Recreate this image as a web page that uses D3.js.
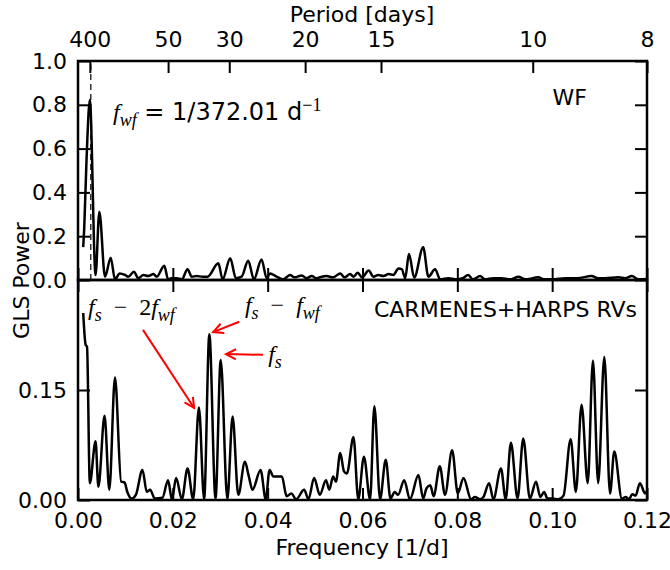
<!DOCTYPE html>
<html>
<head>
<meta charset="utf-8">
<script src="https://cdn.jsdelivr.net/npm/d3@7"></script>
<style>
  body { margin: 0; background: #fff; }
  svg { display: block; font-family: "DejaVu Sans", sans-serif; }
  .axis text { font-size: 22px; fill: #000; font-family: "DejaVu Sans", sans-serif; }
  .axis line { stroke: #000; stroke-width: 2px; }
  .frame { fill: none; stroke: #000; stroke-width: 2.5px; }
  .curve { fill: none; stroke: #000; stroke-width: 2.5px; stroke-linejoin: round; }
  .math { font-family: "Liberation Serif", "DejaVu Serif", serif; font-style: italic; }
  .roman { font-family: "Liberation Serif", "DejaVu Serif", serif; }
  .arrow { stroke: #f00; stroke-width: 2px; fill: none; }
</style>
</head>
<body>
<script>
// window function periodogram, [frequency, power]
var wfPeriodogram = [
  [0.0011,0.15],[0.0013,0.23],[0.0018,0.55],[0.0025,0.822],[0.0037,0.023],[0.0045,0.312],
  [0.0057,0.015],[0.0069,0.102],[0.0078,0.003],[0.0088,0.03],[0.0099,0.023],[0.0106,0.015],
  [0.0118,0.038],[0.0127,0.008],[0.0138,0.023],[0.0148,0.018],[0.0159,0.027],[0.0166,0.015],
  [0.0182,0.065],[0.0190,0.003],[0.0197,0.008],[0.0208,0.008],[0.0219,0.003],[0.0231,0.049],
  [0.0240,0.015],[0.0250,0.018],[0.0263,0.015],[0.0273,0.015],[0.0296,0.076],[0.0305,0.003],
  [0.0321,0.099],[0.0333,0.008],[0.0345,0.015],[0.0359,0.088],[0.0371,0.003],[0.0387,0.094],
  [0.0398,0.008],[0.0405,0.030],[0.0419,0.015],[0.0433,0.003],[0.0447,0.023],[0.0457,0.012],
  [0.0472,0.021],[0.0482,0.008],[0.0493,0.018],[0.0503,0.008],[0.0514,0.015],[0.0524,0.018],
  [0.0538,0.012],[0.0553,0.03],[0.0562,0.012],[0.0574,0.027],[0.0581,0.015],[0.0590,0.033],
  [0.0599,0.012],[0.0613,0.043],[0.0623,0.015],[0.0633,0.023],[0.0644,0.018],[0.0655,0.027],
  [0.0665,0.023],[0.0676,0.053],[0.0683,0.049],[0.0690,0.008],[0.0698,0.119],[0.0709,0.011],
  [0.0728,0.149],[0.0739,0.015],[0.0753,0.049],[0.0764,0.003],[0.0781,0.008],[0.0798,0.003],
  [0.0811,0.008],[0.0823,0.023],[0.0833,0.003],[0.0848,0.018],[0.0858,0.003],[0.0876,0.008],
  [0.0893,0.008],[0.0911,0.003],[0.0929,0.015],[0.0943,0.003],[0.0971,0.012],[0.0982,0.003],
  [0.1000,0.003],[0.1028,0.008],[0.1053,0.008],[0.1083,0.018],[0.1097,0.008],[0.1111,0.008],
  [0.1140,0.012],[0.1154,0.008],[0.1168,0.018],[0.1182,0.003],[0.1200,0.005]
];

// CARMENES+HARPS RV periodogram, [frequency, power]
var rvPeriodogram = [
  [0.0011,0.255],[0.0016,0.212],[0.0019,0.209],[0.0025,0.023],[0.0037,0.080],[0.0043,0.018],
  [0.0056,0.115],[0.0066,0.014],[0.0078,0.167],[0.0091,0.025],[0.0098,0.024],[0.0104,0.011],
  [0.0113,0.002],[0.0122,0.007],[0.0136,0.041],[0.0145,0.011],[0.0152,0.014],[0.0162,0.002],
  [0.0178,0.003],[0.0190,0.027],[0.0198,0.001],[0.0207,0.030],[0.0219,0.001],[0.0231,0.043],
  [0.0243,0.001],[0.0255,0.126],[0.0266,0.001],[0.0277,0.226],[0.0290,0.002],[0.0301,0.191],
  [0.0315,0.001],[0.0326,0.114],[0.0338,0.007],[0.0352,0.052],[0.0360,0.033],[0.0368,0.014],
  [0.0385,0.041],[0.0396,0.001],[0.0404,0.041],[0.0412,0.032],[0.0430,0.032],[0.0440,0.005],
  [0.0450,0.009],[0.0460,0.001],[0.0477,0.014],[0.0486,0.001],[0.0498,0.030],[0.0510,0.007],
  [0.0523,0.027],[0.0530,0.014],[0.0538,0.032],[0.0544,0.025],[0.0553,0.064],[0.0561,0.039],
  [0.0567,0.036],[0.0581,0.086],[0.0591,0.001],[0.0603,0.059],[0.0616,0.001],[0.0625,0.128],
  [0.0637,0.001],[0.0649,0.055],[0.0659,0.002],[0.0668,0.011],[0.0675,0.007],[0.0688,0.027],
  [0.0700,0.001],[0.0718,0.034],[0.0728,0.002],[0.0735,0.016],[0.0743,0.020],[0.0750,0.005],
  [0.0763,0.046],[0.0774,0.007],[0.0789,0.068],[0.0801,0.009],[0.0813,0.030],[0.0829,0.001],
  [0.0837,0.004],[0.0848,0.001],[0.0855,0.004],[0.0867,0.023],[0.0876,0.001],[0.0892,0.043],
  [0.0902,0.001],[0.0913,0.078],[0.0927,0.002],[0.0939,0.084],[0.0953,0.002],[0.0966,0.025],
  [0.0975,0.004],[0.0983,0.011],[0.0990,0.002],[0.1000,0.002],[0.1013,0.001],[0.1024,0.006],
  [0.1039,0.083],[0.1050,0.011],[0.1062,0.130],[0.1075,0.023],[0.1086,0.190],[0.1097,0.023],
  [0.1110,0.195],[0.1122,0.009],[0.1131,0.066],[0.1147,0.002],[0.1155,0.004],[0.1162,0.001],
  [0.1169,0.008],[0.1176,0.006],[0.1185,0.023],[0.1196,0.009],[0.1200,0.012]
];

var freqTicks = [0, 0.02, 0.04, 0.06, 0.08, 0.10, 0.12];
var wfPowerTicks = [0, 0.2, 0.4, 0.6, 0.8, 1.0];
var rvPowerTicks = [0, 0.15];
var periodLabels = ['400', '50', '30', '20', '15', '10', '8'];
var periodTickFreqs = [0.0025, 0.019, 0.0319, 0.0479, 0.0639, 0.0959, 0.12];
var windowFreq = 1 / 372.01;

/* arrows in data coords of the lower panel: tail -> tip */
var arrows = [
  { from: [0.0137, 0.232], to: [0.0245, 0.1255] },
  { from: [0.0340, 0.243], to: [0.0285, 0.229] },
  { from: [0.0390, 0.198], to: [0.0312, 0.199] }
];
/* labels: pieces are i = math italic, sub = subscript, r = roman */
var peakLabels = [
  { at: [0.0021, 0.252], parts: [['f','i'],['s','sub'],['\u2002\u2212\u20022','r'],['f','i'],['wf','sub']] },
  { at: [0.0352, 0.255], parts: [['f','i'],['s','sub'],['\u2002\u2212\u2002','r'],['f','i'],['wf','sub']] },
  { at: [0.0401, 0.188], parts: [['f','i'],['s','sub']] }
];

var W = 670, H = 570;
var plotL = 78, plotR = 647, plotT = 61, plotM = 280, plotB = 500;

var svg = d3.select('body').append('svg').attr('width', W).attr('height', H);

var defs = svg.append('defs');
defs.append('marker')
  .attr('id', 'head')
  .attr('viewBox', '-12 -7 14 14')
  .attr('markerWidth', 14).attr('markerHeight', 14)
  .attr('markerUnits', 'userSpaceOnUse')
  .attr('orient', 'auto')
  .append('path')
  .attr('d', 'M-10,-5L0,0L-10,5')
  .attr('class', 'arrow');

var x = d3.scaleLinear().domain([0, 0.12]).range([plotL, plotR]);
var yTop = d3.scaleLinear().domain([0, 1]).range([plotM, plotT]);
var yBot = d3.scaleLinear().domain([0, 0.30]).range([plotB, plotM]);

function curveFor(y){
  return d3.line()
    .x(function(d){ return x(d[0]); })
    .y(function(d){ return y(d[1]); })
    .curve(d3.curveMonotoneX);
}

// dashed marker of the window peak
svg.append('line')
  .attr('x1', x(windowFreq)).attr('x2', x(windowFreq))
  .attr('y1', yTop(0)).attr('y2', yTop(1))
  .attr('stroke', '#333').attr('stroke-width', 1.5)
  .attr('stroke-dasharray', '6,4');

svg.append('path').datum(wfPeriodogram).attr('class', 'curve').attr('d', curveFor(yTop));
svg.append('path').datum(rvPeriodogram).attr('class', 'curve').attr('d', curveFor(yBot));

function axis(gen, tx, ty){
  var g = svg.append('g').attr('class', 'axis')
    .attr('transform', 'translate(' + tx + ',' + ty + ')')
    .call(gen);
  g.select('.domain').remove();
  return g;
}

// upper panel
axis(d3.axisLeft(yTop).tickValues(wfPowerTicks).tickSize(-12).tickPadding(11)
  .tickFormat(d3.format('.1f')), plotL, 0);
axis(d3.axisRight(yTop).tickValues(wfPowerTicks).tickSize(-12).tickFormat(''), plotR, 0);
axis(d3.axisBottom(x).tickValues(freqTicks).tickSize(-12).tickFormat(''), 0, plotM);
axis(d3.axisTop(x).tickValues(periodTickFreqs).tickSize(-12).tickPadding(14)
  .tickFormat(function(d, i){ return periodLabels[i]; }), 0, plotT);

// lower panel
axis(d3.axisLeft(yBot).tickValues(rvPowerTicks).tickSize(-12).tickPadding(11)
  .tickFormat(d3.format('.2f')), plotL, 0);
axis(d3.axisRight(yBot).tickValues(rvPowerTicks).tickSize(-12).tickFormat(''), plotR, 0);
axis(d3.axisTop(x).tickValues(freqTicks).tickSize(-12).tickFormat(''), 0, plotM);
axis(d3.axisBottom(x).tickValues(freqTicks).tickSize(-12).tickPadding(12)
  .tickFormat(d3.format('.2f')), 0, plotB);

svg.append('rect').attr('class', 'frame')
  .attr('x', plotL).attr('y', plotT).attr('width', plotR - plotL).attr('height', plotM - plotT);
svg.append('rect').attr('class', 'frame')
  .attr('x', plotL).attr('y', plotM).attr('width', plotR - plotL).attr('height', plotB - plotM);

// axis titles
svg.append('text').attr('x', 362).attr('y', 22).attr('text-anchor', 'middle')
  .style('font-size', '22px').text('Period [days]');
svg.append('text').attr('x', 362).attr('y', 555).attr('text-anchor', 'middle')
  .style('font-size', '22px').text('Frequency [1/d]');
svg.append('text').attr('transform', 'translate(29,' + ((plotT + plotB) / 2) + ') rotate(-90)')
  .attr('text-anchor', 'middle').style('font-size', '22px').text('GLS Power');

// panel tags
svg.append('text').attr('x', 587).attr('y', 105).attr('text-anchor', 'end')
  .style('font-size', '22px').text('WF');
svg.append('text').attr('x', 637).attr('y', 317).attr('text-anchor', 'end')
  .style('font-size', '22px').text('CARMENES+HARPS RVs');

function mathText(px, py, parts, size){
  var t = svg.append('text').attr('x', px).attr('y', py).style('font-size', size + 'px');
  var shift = 0;
  parts.forEach(function(p){
    var want = p[1] == 'sub' ? 6 : (p[1] == 'sup' ? -9 : 0);
    var s = t.append('tspan').text(p[0]).attr('dy', want - shift);
    shift = want;
    if (p[1] == 'i' || p[1] == 'sub') s.attr('class', 'math');
    if (p[1] == 'r' || p[1] == 'sup') s.attr('class', 'roman');
    if (p[1] == 'sub' || p[1] == 'sup') s.style('font-size', Math.round(size * 0.75) + 'px');
  });
  return t;
}

mathText(113, 120, [['f','i'],['wf','sub'],[' = 1/372.01 d','s'],['\u22121','sup']], 24);

peakLabels.forEach(function(l){
  mathText(x(l.at[0]), yBot(l.at[1]), l.parts, 24);
});

arrows.forEach(function(a){
  svg.append('line').attr('class', 'arrow')
    .attr('x1', x(a.from[0])).attr('y1', yBot(a.from[1]))
    .attr('x2', x(a.to[0])).attr('y2', yBot(a.to[1]))
    .attr('marker-end', 'url(#head)');
});
</script>
</body>
</html>
